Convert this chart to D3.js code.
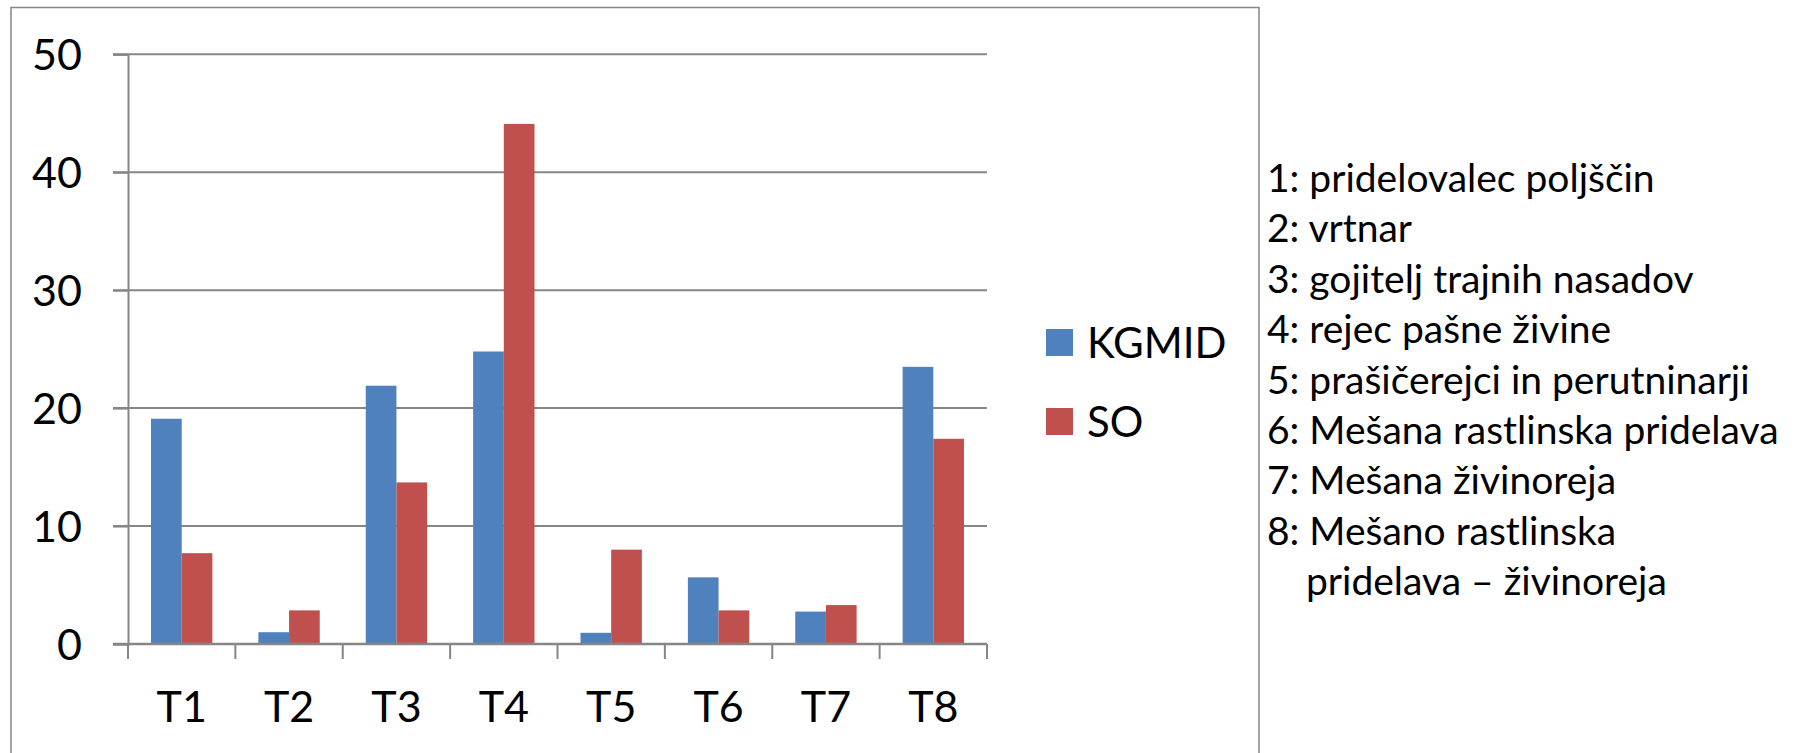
<!DOCTYPE html>
<html>
<head>
<meta charset="utf-8">
<script src="https://cdn.jsdelivr.net/npm/d3@7"></script>
<style>
  html, body { margin: 0; padding: 0; background: #fff; }
  svg { display: block; }
  text { font-family: Lato, "Open Sans", sans-serif; fill: #000; }
</style>
</head>
<body>
<svg id="chart" width="1805" height="753"></svg>
<script>
// Farm types and the share (%) in each, by two classification methods
const categories = ["T1", "T2", "T3", "T4", "T5", "T6", "T7", "T8"];
const kgmid = [19.1, 1.0, 21.9, 24.8, 0.95, 5.65, 2.75, 23.5];
const so = [7.7, 2.85, 13.7, 44.1, 8.0, 2.85, 3.3, 17.4];
const seriesNames = ["KGMID", "SO"];
const seriesColors = ["#4F81BD", "#C0504D"];
const yTicks = [0, 10, 20, 30, 40, 50];
const typeNotes = [
  "1: pridelovalec poljščin",
  "2: vrtnar",
  "3: gojitelj trajnih nasadov",
  "4: rejec pašne živine",
  "5: prašičerejci in perutninarji",
  "6: Mešana rastlinska pridelava",
  "7: Mešana živinoreja",
  "8: Mešano rastlinska",
  "pridelava – živinoreja"
];

const svg = d3.select("#chart");
const grey = "#868686";

// outer chart frame
svg.append("rect")
  .attr("x", 11).attr("y", 7.5)
  .attr("width", 1248).attr("height", 780)
  .attr("fill", "none").attr("stroke", grey).attr("stroke-width", 1.5);

const plot = { left: 128, right: 987, top: 54.3, bottom: 644 };

const x = d3.scaleBand().domain(categories).range([plot.left, plot.right]);
const y = d3.scaleLinear().domain([0, 50]).range([plot.bottom, plot.top]);

// horizontal gridlines (extending a little left of the axis as tick marks)
svg.append("g").selectAll("line")
  .data(yTicks.filter(d => d > 0))
  .join("line")
  .attr("x1", plot.left - 15).attr("x2", plot.right)
  .attr("y1", d => y(d)).attr("y2", d => y(d))
  .attr("stroke", grey).attr("stroke-width", 2);

// y axis
const yAxis = svg.append("g")
  .attr("transform", `translate(${plot.left},0)`)
  .call(d3.axisLeft(y).tickValues(yTicks).tickSize(15).tickPadding(31).tickFormat(d3.format("d")));
yAxis.select(".domain").attr("stroke", grey).attr("stroke-width", 2);
yAxis.selectAll(".tick line").attr("stroke", grey).attr("stroke-width", 2);
yAxis.selectAll(".tick text")
  .attr("font-size", 43).attr("font-family", "Lato, 'Open Sans', sans-serif").attr("fill", "#000")
  .attr("dy", "0.36em");

// bars
const inner = d3.scaleBand().domain(seriesNames)
  .range([0, x.bandwidth()]).paddingInner(0).paddingOuter(0.75);
const seriesValues = [kgmid, so];
seriesNames.forEach((name, si) => {
  svg.append("g").selectAll("rect")
    .data(categories.map((c, i) => ({ c, v: seriesValues[si][i] })))
    .join("rect")
    .attr("x", d => x(d.c) + inner(name))
    .attr("width", inner.bandwidth())
    .attr("y", d => y(d.v))
    .attr("height", d => y(0) - y(d.v))
    .attr("fill", seriesColors[si]);
});

// x axis line and ticks at category boundaries
const xg = svg.append("g");
xg.append("line")
  .attr("x1", plot.left - 15).attr("x2", plot.right)
  .attr("y1", y(0)).attr("y2", y(0))
  .attr("stroke", grey).attr("stroke-width", 2.5);
xg.selectAll("line.tk")
  .data(categories.map(c => x(c)).concat([plot.right]))
  .join("line").attr("class", "tk")
  .attr("x1", d => d).attr("x2", d => d)
  .attr("y1", y(0)).attr("y2", y(0) + 15)
  .attr("stroke", grey).attr("stroke-width", 2);

const xAxis = svg.append("g")
  .attr("transform", `translate(0,${y(0)})`)
  .call(d3.axisBottom(x).tickSize(0).tickPadding(0));
xAxis.select(".domain").remove();
xAxis.selectAll(".tick text")
  .attr("font-size", 43).attr("font-family", "Lato, 'Open Sans', sans-serif").attr("fill", "#000")
  .attr("dy", null).attr("y", 78);

// legend
const legend = svg.append("g");
seriesNames.forEach((name, i) => {
  const ly = 329 + i * 79;
  legend.append("rect")
    .attr("x", 1046).attr("y", ly).attr("width", 27).attr("height", 27)
    .attr("fill", seriesColors[i]);
  legend.append("text")
    .attr("x", 1087).attr("y", ly + 13.5).attr("dy", "0.36em")
    .attr("font-size", 42).text(name);
});

// list of farm type descriptions
svg.append("g").selectAll("text")
  .data(typeNotes)
  .join("text")
  .attr("x", (d, i) => i === 8 ? 1306 : 1267)
  .attr("y", (d, i) => 192 + i * 50.4)
  .attr("font-size", 39)
  .text(d => d);
</script>
</body>
</html>
